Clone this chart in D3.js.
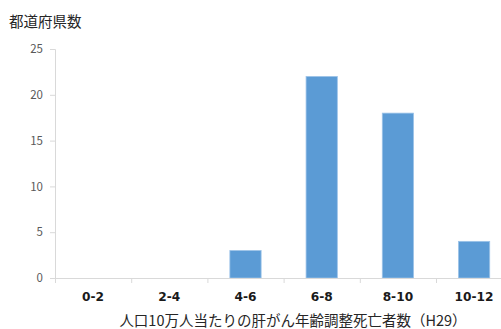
<!DOCTYPE html>
<html>
<head>
<meta charset="utf-8">
<script src="https://cdn.jsdelivr.net/npm/d3@7"></script>
<style>
  html, body { margin: 0; padding: 0; background: #fff; }
  svg { display: block; }
</style>
</head>
<body>
<svg id="chart" width="501" height="329"></svg>
<script>
// Age-adjusted liver cancer deaths per 100k (H29), number of prefectures per range
const categories = ["0-2", "2-4", "4-6", "6-8", "8-10", "10-12"];
const counts = [0, 0, 3, 22, 18, 4];
const yTicks = [0, 5, 10, 15, 20, 25];

const svg = d3.select("#chart");
const jp = "'Noto Sans CJK JP', 'Noto Sans', sans-serif";

const plotLeft = 55, plotBottom = 278, plotTop = 49;
const bandW = 76.2;

const x = d3.scaleBand()
  .domain(categories)
  .range([plotLeft, plotLeft + bandW * categories.length])
  .paddingInner(0.59)
  .paddingOuter(0.295);

const y = d3.scaleLinear().domain([0, 25]).range([plotBottom, plotTop]);

// Y axis
const yAxis = svg.append("g").attr("transform", `translate(${plotLeft},0)`)
  .call(d3.axisLeft(y).tickValues(yTicks).tickSize(5).tickPadding(7));
yAxis.select(".domain").attr("stroke", "#d9d9d9");
yAxis.selectAll(".tick line").attr("stroke", "#d9d9d9");
yAxis.selectAll(".tick text")
  .attr("fill", "#595959")
  .style("font-family", jp)
  .style("font-size", "11.5px");

// Bars
svg.append("g").selectAll("rect")
  .data(categories.map((c, i) => ({ c, v: counts[i] })))
  .join("rect")
  .attr("x", d => x(d.c))
  .attr("y", d => y(d.v))
  .attr("width", x.bandwidth())
  .attr("height", d => y(0) - y(d.v))
  .attr("fill", "#5b9bd5")
  .attr("stroke", "#9cc3e8")
  .attr("stroke-width", 0.8);

// X axis: boundary ticks between categories
const xg = svg.append("g");
xg.append("line")
  .attr("x1", plotLeft).attr("x2", 501)
  .attr("y1", plotBottom + 0.5).attr("y2", plotBottom + 0.5)
  .attr("stroke", "#d9d9d9");
xg.selectAll("line.tk")
  .data(categories)
  .join("line")
  .attr("class", "tk")
  .attr("x1", d => x(d) - x.step() * x.paddingInner() / 2 + 0.5)
  .attr("x2", d => x(d) - x.step() * x.paddingInner() / 2 + 0.5)
  .attr("y1", plotBottom)
  .attr("y2", plotBottom + 5)
  .attr("stroke", "#d9d9d9");
xg.selectAll("text")
  .data(categories)
  .join("text")
  .attr("x", d => x(d) + x.bandwidth() / 2)
  .attr("y", 301)
  .attr("text-anchor", "middle")
  .attr("fill", "#1a1a1a")
  .style("font-family", "'DejaVu Sans', sans-serif")
  .style("font-weight", "bold")
  .style("font-size", "12.2px")
  .text(d => d);

// Titles
svg.append("text")
  .attr("x", 9).attr("y", 27)
  .attr("fill", "#262626")
  .style("font-family", jp)
  .style("font-size", "14.5px")
  .text("都道府県数");

svg.append("text")
  .attr("x", 293).attr("y", 326)
  .attr("text-anchor", "middle")
  .attr("fill", "#262626")
  .style("font-family", jp)
  .style("font-size", "14.5px")
  .text("人口10万人当たりの肝がん年齢調整死亡者数（H29）");
</script>
</body>
</html>
